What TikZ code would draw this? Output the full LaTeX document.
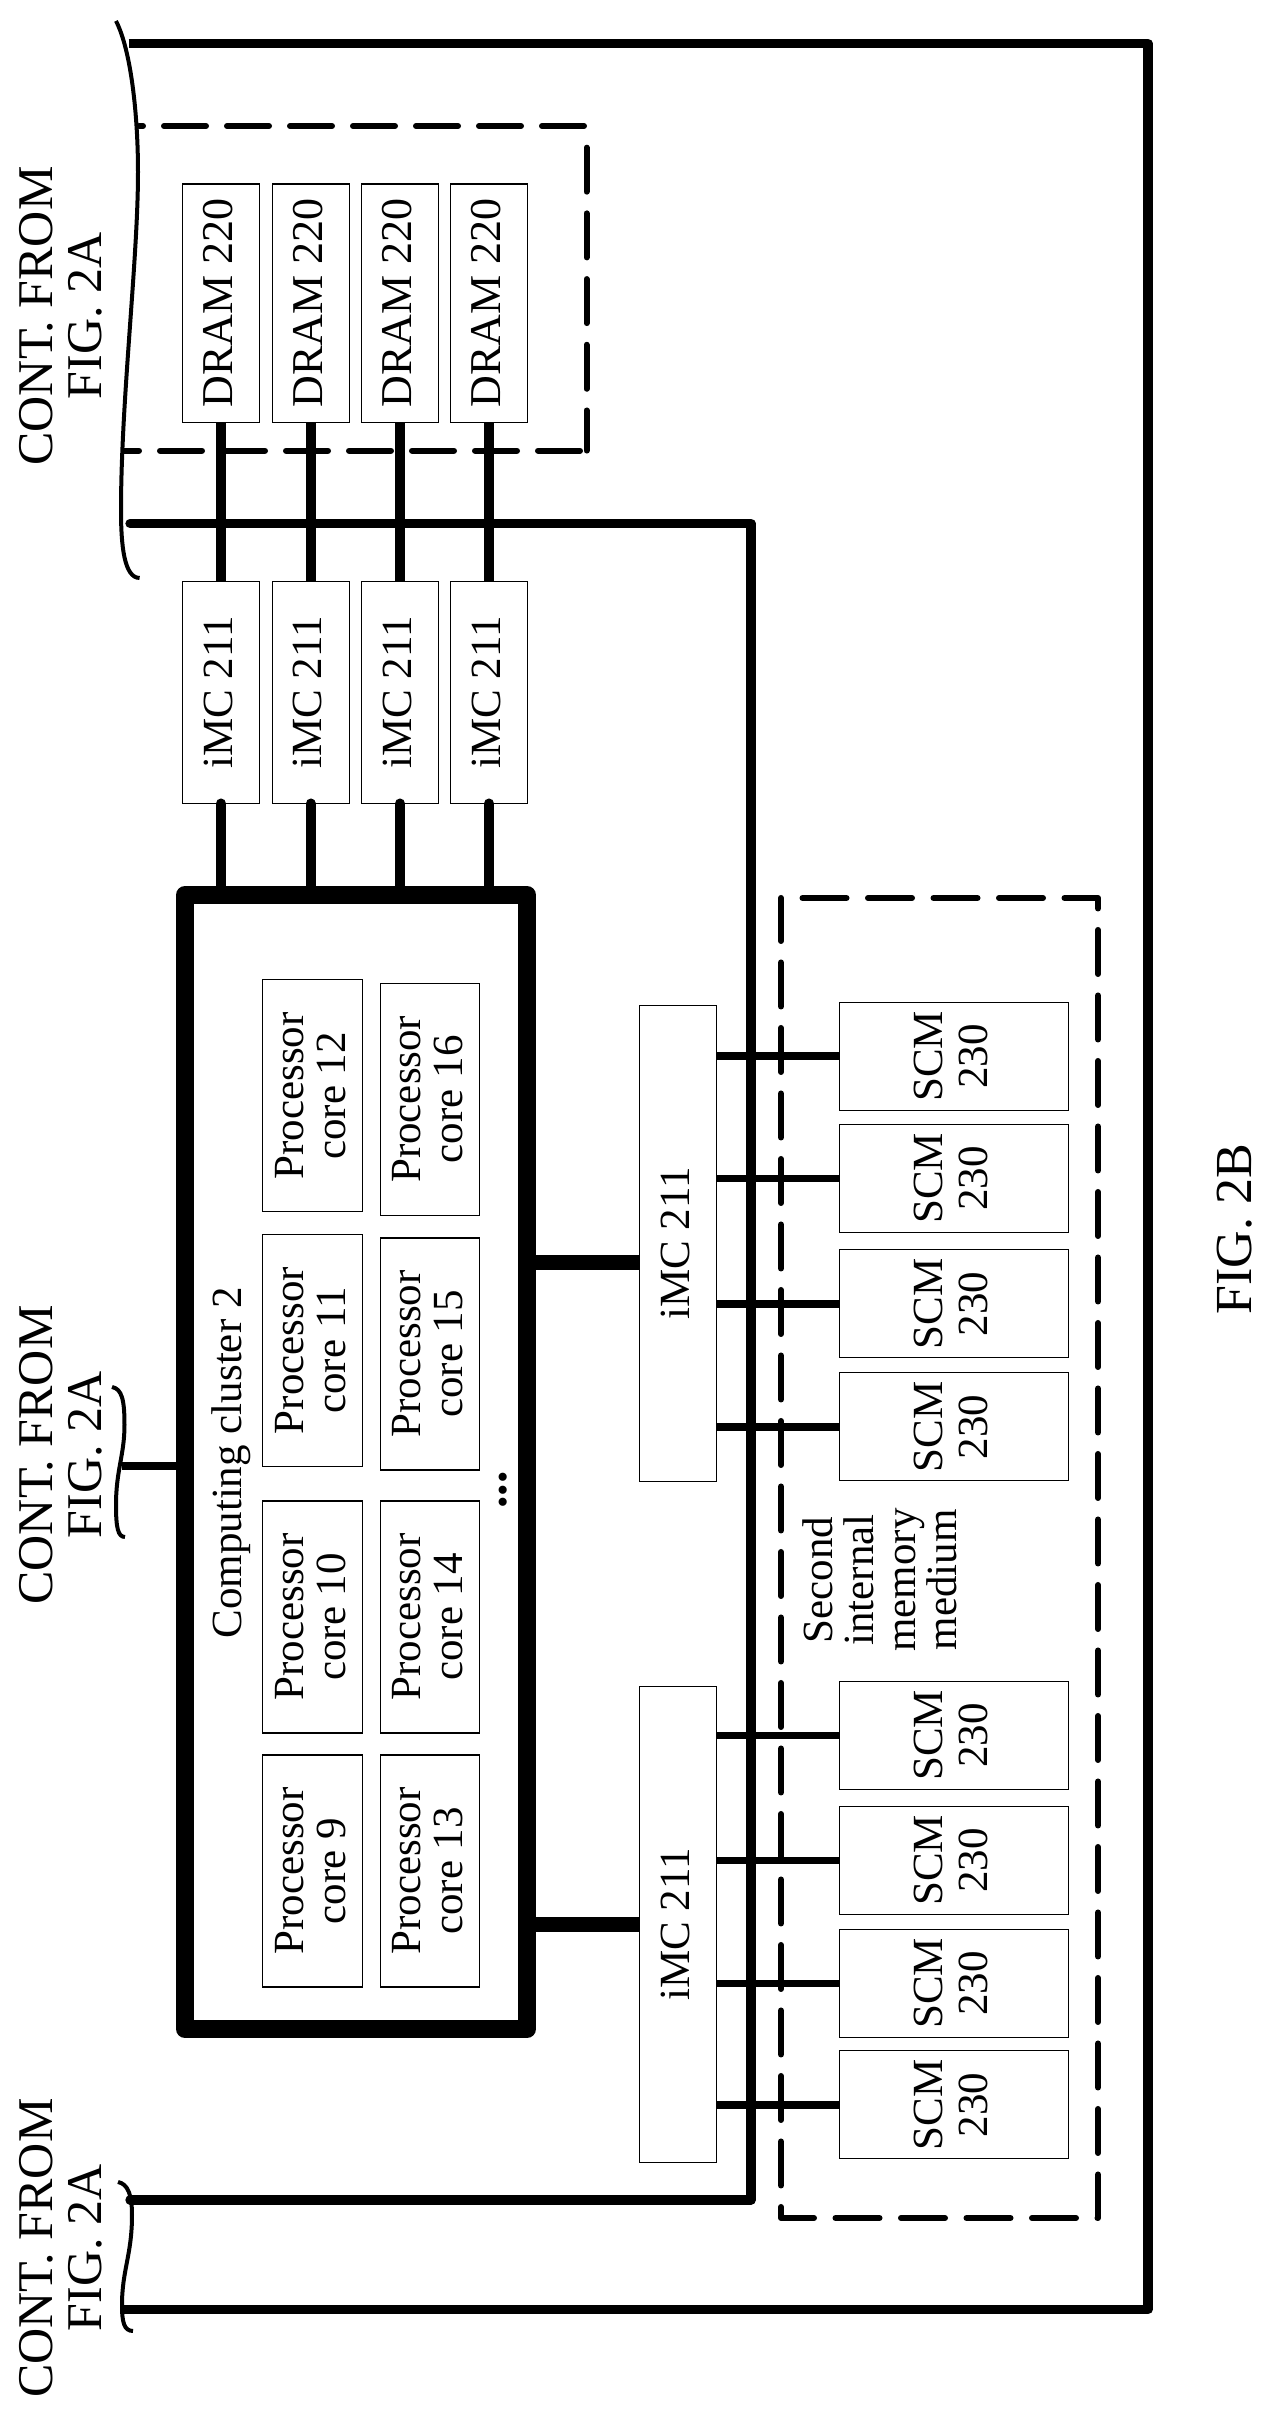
\documentclass[tikz,border=0pt]{standalone}
\usepackage{fontspec}
\setmainfont{Liberation Serif}
\usetikzlibrary{positioning}

\begin{document}
\begin{tikzpicture}[
        rotate=90, transform shape, x=1pt, y=1pt,
        box/.style={rectangle, draw=black, line width=1.2pt, inner sep=0pt, outer sep=0pt, align=center, font=\fontsize{43}{42}\selectfont},
        drambox/.style={box, minimum width=238.5pt, minimum height=77.2pt, text depth=6.5pt, font=\fontsize{44}{44}\selectfont},
        imcbox/.style={box, minimum width=222pt, minimum height=77.2pt, text depth=6pt},
        bigimc/.style={box, minimum width=476pt, minimum height=77pt, text depth=6pt},
        corebox/.style={box, minimum width=232pt, minimum height=99.7pt, text depth=5pt},
        scmbox/.style={box, minimum width=108pt, minimum height=229.4pt, text depth=6.5pt, font=\fontsize{43}{45}\selectfont},
        clusterbox/.style={rectangle, draw=black, line width=18pt, line join=round, inner sep=0pt, outer sep=0pt, minimum width=1134pt, minimum height=342pt},
        label/.style={inner sep=0pt, outer sep=0pt, align=center, font=\fontsize{43}{41.5}\selectfont},
        contlabel/.style={inner sep=0pt, outer sep=0pt, align=center, font=\fontsize{50}{49}\selectfont},
        wire/.style={line width=9.3pt, line join=round},
        brace/.style={line width=4pt},
        thicklink/.style={line width=10pt},
        capped/.style={line width=10pt, line cap=round},
        scmlink/.style={line width=7.6pt},
        clink/.style={line width=15pt},
        dashbox/.style={line width=6pt, line cap=round, line join=round}
    ]
        \useasboundingbox (0,0) rectangle (2422,-1273);

        % Computing cluster
        \node[clusterbox] (cluster) at (960,-356) {};
        \node[label] (title) at (959,-231) {Computing cluster 2};
        \node[label, font=\fontsize{50}{50}\selectfont\bfseries] (dots) at (932,-503) {...};

        % Processor cores
        \node[corebox] (core9) at (551,-312.5) {Processor\\core 9};
        \node[corebox, right=22pt of core9] (core10) {Processor\\core 10};
        \node[corebox, right=34.4pt of core10] (core11) {Processor\\core 11};
        \node[corebox, right=22.7pt of core11] (core12) {Processor\\core 12};
        \node[corebox, below=17.8pt of core9] (core13) {Processor\\core 13};
        \node[corebox, below=17.8pt of core10] (core14) {Processor\\core 14};
        \node[corebox, right=31pt of core14] (core15) {Processor\\core 15};
        \node[corebox, right=22.7pt of core15] (core16) {Processor\\core 16};

        % DRAM
        \node[drambox] (dramA) at (2118.75,-221) {DRAM 220};
        \node[drambox, below=12.5pt of dramA] (dramB) {DRAM 220};
        \node[drambox, below=12.1pt of dramB] (dramC) {DRAM 220};
        \node[drambox, below=11.8pt of dramC] (dramD) {DRAM 220};

        % iMC
        \node[imcbox, left=159pt of dramA] (imcA) {iMC 211};
        \node[imcbox, left=159pt of dramB] (imcB) {iMC 211};
        \node[imcbox, left=159pt of dramC] (imcC) {iMC 211};
        \node[imcbox, left=159pt of dramD] (imcD) {iMC 211};
        \node[bigimc] (imcLow) at (497.6,-677.9) {iMC 211};
        \node[bigimc, right=205pt of imcLow] (imcHigh) {iMC 211};

        % SCM
        \node[scmbox] (scmA) at (317.1,-954) {SCM\\230};
        \node[scmbox, right=13.5pt of scmA] (scmB) {SCM\\230};
        \node[scmbox, right=14.9pt of scmB] (scmC) {SCM\\230};
        \node[scmbox, right=17.1pt of scmC] (scmD) {SCM\\230};
        \node[scmbox, right=200.5pt of scmD] (scmE) {SCM\\230};
        \node[scmbox, right=15.1pt of scmE] (scmF) {SCM\\230};
        \node[scmbox, right=17.3pt of scmF] (scmG) {SCM\\230};
        \node[scmbox, right=14.2pt of scmG] (scmH) {SCM\\230};
        \node[label] (second) at (842,-880) {Second\\internal\\memory\\medium};

        % Labels
        \node[contlabel] (contTop) at (2106,-61) {CONT. FROM\\FIG. 2A};
        \node[contlabel] (contMid) at (967,-61) {CONT. FROM\\FIG. 2A};
        \node[contlabel] (contBot) at (174,-61) {CONT. FROM\\FIG. 2A};
        \node[inner sep=0pt, font=\fontsize{52}{52}\selectfont] (figure) at (1192.5,-1235) {FIG. 2B};

        % Outer wire and bus
        \coordinate (outA) at (2378.4,-128.6);
        \coordinate (outB) at (2378.4,-1148);
        \coordinate (outC) at (112.5,-1148);
        \coordinate (outD) at (112.5,-122.4);
        \coordinate (busA) at (1898.5,-130);
        \coordinate (busB) at (1898.5,-751);
        \coordinate (busC) at (222,-751);
        \coordinate (busD) at (222,-130);
        \draw[wire] (outA) -- (outB) -- (outC) -- (outD);
        \draw[wire, line cap=round] (busA) -- (busB) -- (busC) -- (busD);

        % Dashed frames
        \coordinate (frameA) at (2296,-139);
        \coordinate (frameB) at (2296,-586.5);
        \coordinate (frameC) at (1971.4,-586.5);
        \coordinate (frameD) at (1971.4,-124);
        \draw[dashbox, dash pattern=on 42pt off 21pt, dash phase=38pt] (frameA) -- (frameB);
        \draw[dashbox, dash pattern=on 44pt off 21.7pt, dash phase=44pt] (frameB) -- (frameC);
        \draw[dashbox, dash pattern=on 42pt off 21pt, dash phase=56.5pt] (frameC) -- (frameD);
        \coordinate (frameE) at (1524,-781);
        \coordinate (frameF) at (1524,-1098);
        \coordinate (frameG) at (204,-1098);
        \coordinate (frameH) at (204,-781);
        \draw[dashbox, dash pattern=on 44pt off 21.5pt, dash phase=44pt] (frameE) -- (frameF) -- (frameG) -- (frameH) -- cycle;

        % Braces
        \draw[brace] (2401,-116) .. controls (2372,-131) and (2307,-138) .. (2250,-138) .. controls (2162,-138) and (2022,-121) .. (1912,-121) .. controls (1877,-121) and (1844,-124) .. (1844,-139.6);
        \draw[brace] (1035,-112) .. controls (1033,-122) and (1022,-124.5) .. (997,-124.5) .. controls (967,-124.5) and (952,-116) .. (917,-116) .. controls (894,-116) and (885,-118) .. (885,-125);
        \draw[brace] (240,-118) .. controls (238,-128) and (227,-132) .. (207,-132) .. controls (167,-132) and (152,-122) .. (117,-122) .. controls (100,-122) and (91,-124) .. (91,-133);

        % Links
        \draw[thicklink] (dramA) -- (imcA);
        \draw[thicklink] (dramB) -- (imcB);
        \draw[thicklink] (dramC) -- (imcC);
        \draw[thicklink] (dramD) -- (imcD);
        \draw[capped] (imcA.west) -- (cluster.east |- imcA.west);
        \draw[capped] (imcB.west) -- (cluster.east |- imcB.west);
        \draw[capped] (imcC.west) -- (cluster.east |- imcC.west);
        \draw[capped] (imcD.west) -- (cluster.east |- imcD.west);
        \coordinate (linkMid) at (956,-122);
        \draw[line width=8pt] (linkMid) -- (linkMid |- cluster.north);
        \draw[clink] (imcLow.north) -- (imcLow.north |- cluster.south);
        \coordinate (linkHigh) at ([xshift=-19pt]imcHigh.north);
        \draw[clink] (linkHigh) -- (linkHigh |- cluster.south);
        \draw[scmlink] (scmA.north) -- (scmA.north |- imcLow.south);
        \draw[scmlink] (scmB.north) -- (scmB.north |- imcLow.south);
        \draw[scmlink] (scmC.north) -- (scmC.north |- imcLow.south);
        \draw[scmlink] (scmD.north) -- (scmD.north |- imcLow.south);
        \draw[scmlink] (scmE.north) -- (scmE.north |- imcHigh.south);
        \draw[scmlink] (scmF.north) -- (scmF.north |- imcHigh.south);
        \draw[scmlink] (scmG.north) -- (scmG.north |- imcHigh.south);
        \draw[scmlink] (scmH.north) -- (scmH.north |- imcHigh.south);
    \end{tikzpicture}
\end{document}
